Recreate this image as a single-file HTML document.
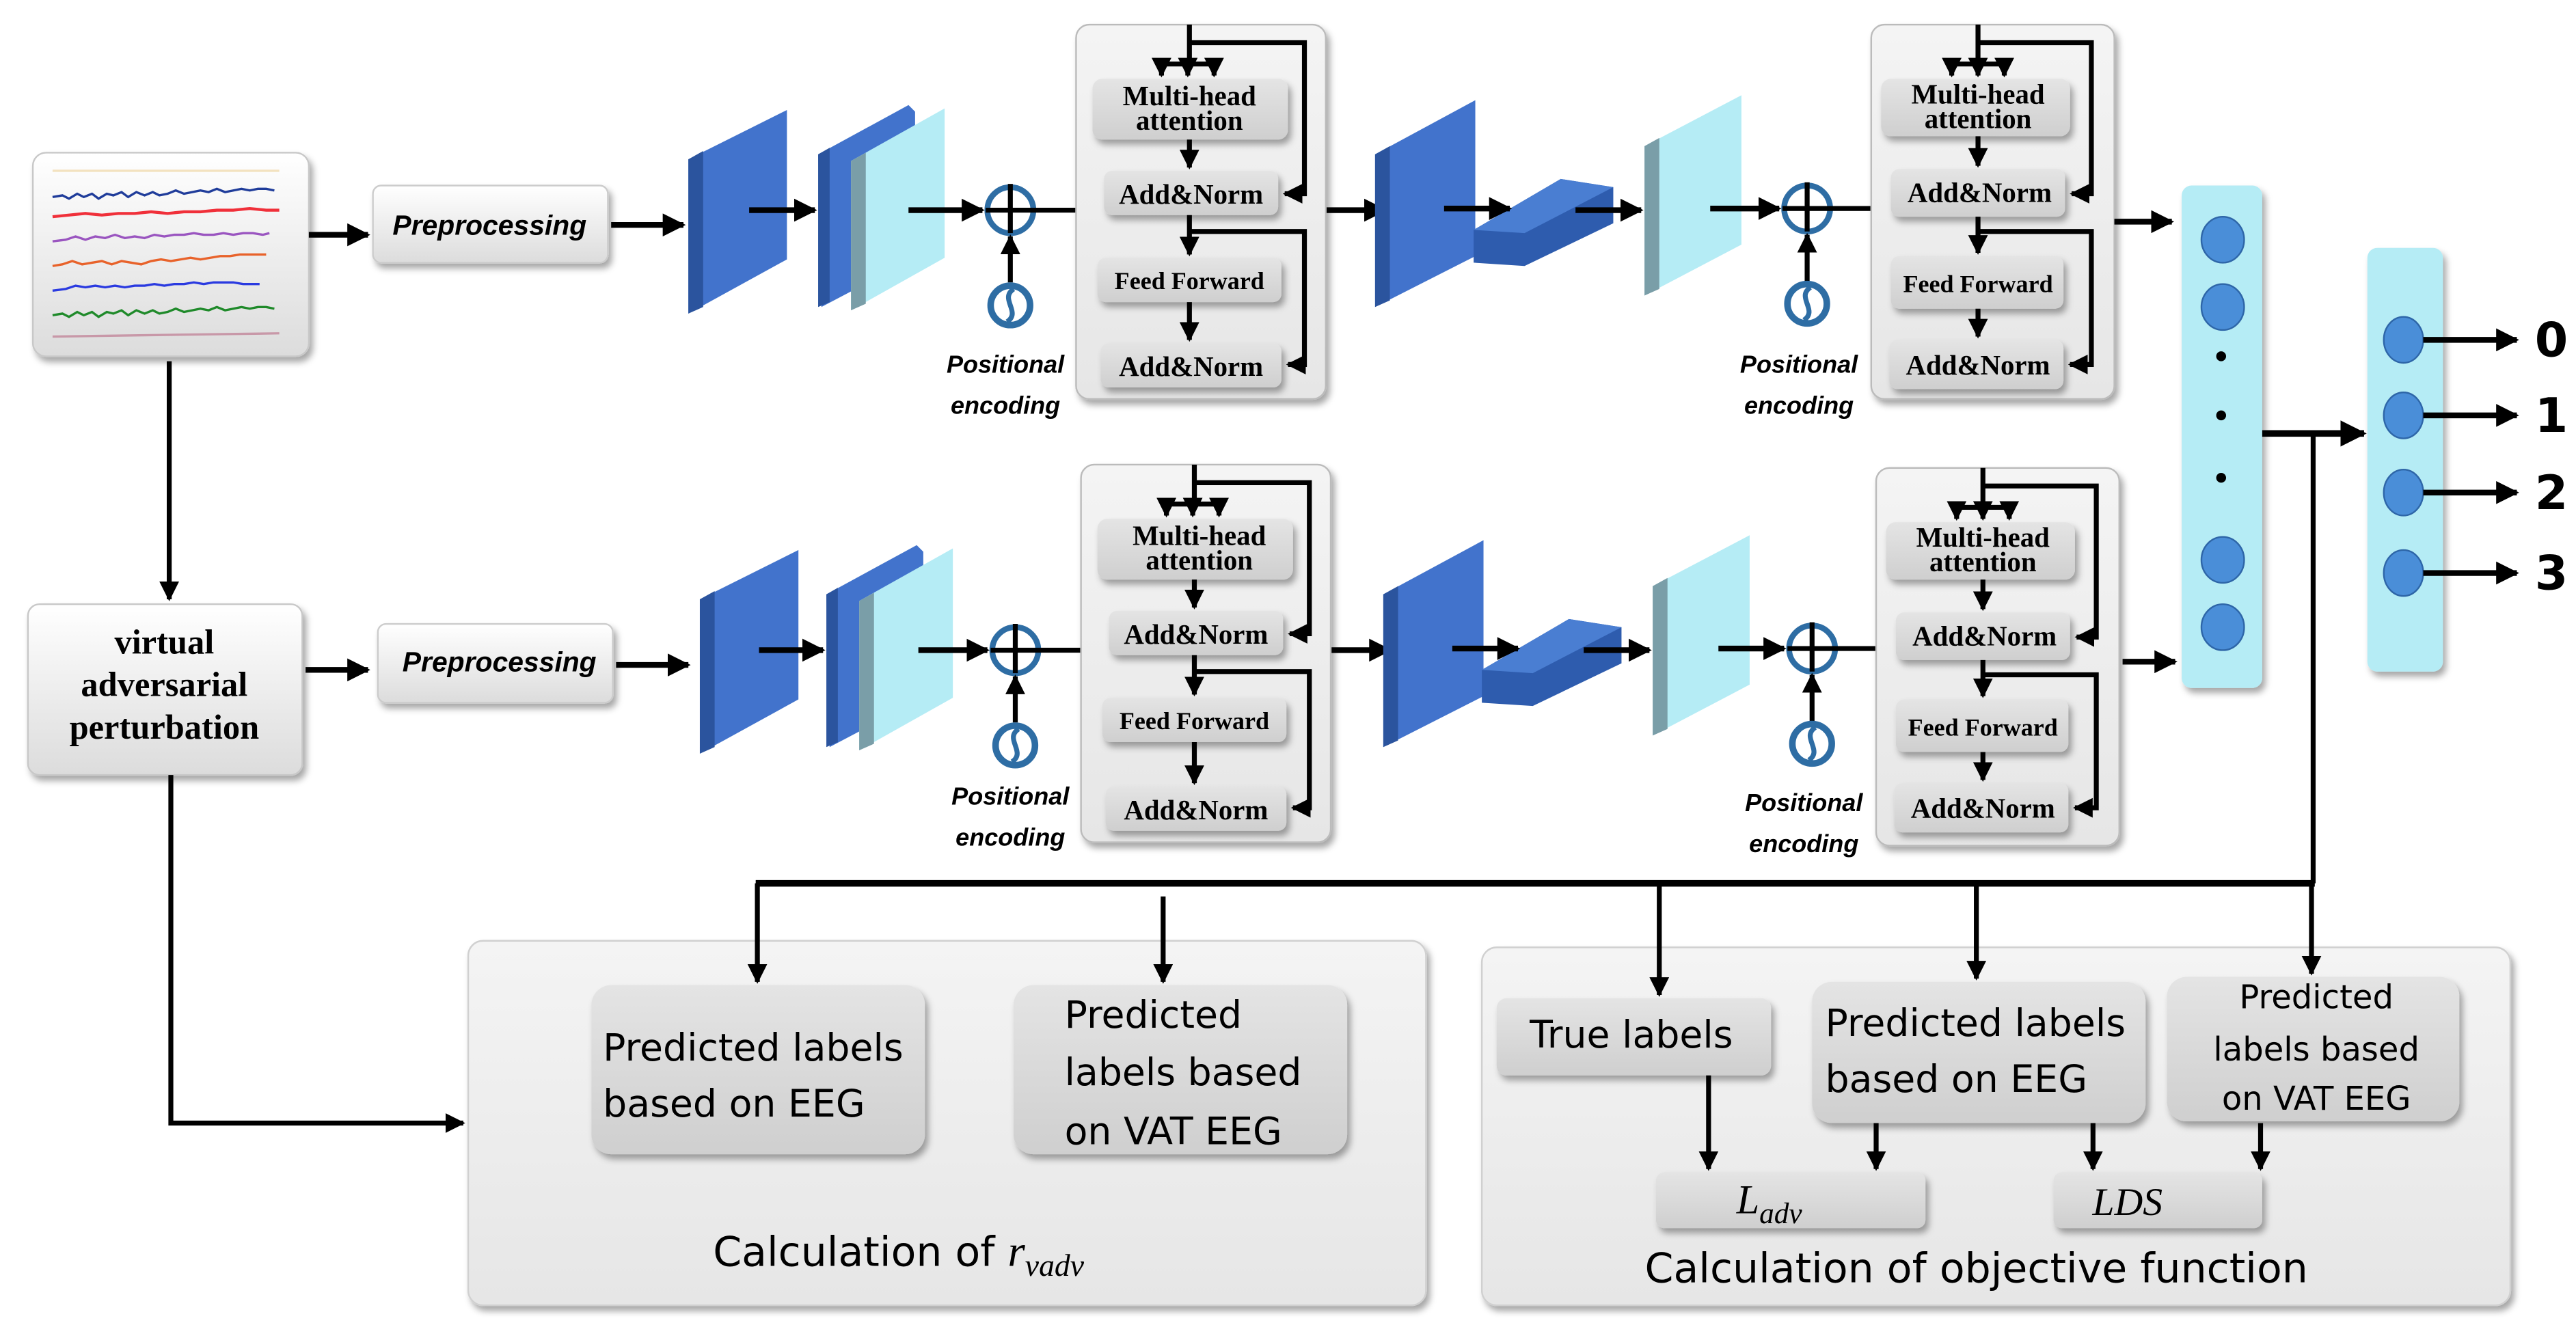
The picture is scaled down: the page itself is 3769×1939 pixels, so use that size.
<!DOCTYPE html>
<html><head><meta charset="utf-8"><style>
html,body{margin:0;padding:0;background:#fff;}
svg{display:block;}
.ser{font-family:"Liberation Serif",serif;font-weight:bold;}
.san{font-family:"DejaVu Sans","Liberation Sans",sans-serif;}
.it{font-family:"Liberation Sans",sans-serif;font-style:italic;font-weight:bold;}
</style></head><body>
<svg width="3769" height="1939" viewBox="0 0 1568 807" preserveAspectRatio="none" xmlns="http://www.w3.org/2000/svg">
<defs>
<marker id="a" markerWidth="4" markerHeight="4" refX="3.6" refY="2" orient="auto" markerUnits="strokeWidth"><path d="M0,0 L4,2 L0,4 z" fill="#000"/></marker>
<linearGradient id="g" x1="0" y1="0" x2="0" y2="1"><stop offset="0" stop-color="#ffffff"/><stop offset="1" stop-color="#dcdcdc"/></linearGradient>
<linearGradient id="g2" x1="0" y1="0" x2="0" y2="1"><stop offset="0" stop-color="#f4f4f4"/><stop offset="1" stop-color="#e6e6e6"/></linearGradient>
<linearGradient id="gi" x1="0" y1="0" x2="0" y2="1"><stop offset="0" stop-color="#e4e4e4"/><stop offset="1" stop-color="#cfcfcf"/></linearGradient>
<filter id="s" x="-10%" y="-10%" width="130%" height="140%"><feDropShadow dx="2" dy="3" stdDeviation="2" flood-color="#000" flood-opacity="0.35"/></filter>
</defs>
<g stroke-linecap="butt">
<rect x="20" y="93" width="168" height="124" rx="8" fill="url(#g)" stroke="#c8c8c8" filter="url(#s)"/>
<g fill="none" stroke-width="1.4">
<path d="M32,104 L170,104" stroke="#f3e2c0"/>
<path d="M32,120 l6,-1 4,2 5,-3 4,2 5,-2 4,3 5,-3 4,1 5,-2 4,3 5,-3 5,2 5,-2 4,2 5,-1 5,-2 5,2 5,-1 5,-1 5,1 5,-2 5,2 5,-1 5,-1 5,1 5,-1 5,0 5,1" stroke="#1f3c9a"/>
<path d="M32,132 l10,-1 10,-1 10,1 10,-1 10,0 10,-1 10,1 10,-1 10,0 10,-1 10,0 10,-1 10,1 8,0" stroke="#f0303a" stroke-width="1.8"/>
<path d="M32,147 l8,-1 6,-2 6,2 6,-2 6,1 6,-2 6,2 6,-1 6,1 6,-2 6,1 6,-1 6,0 6,-1 6,1 6,0 6,-1 6,1 6,-1 6,0 6,1 4,-1" stroke="#9a55c0"/>
<path d="M32,162 l6,-1 6,-2 6,2 6,-1 6,-1 6,2 6,-2 6,1 6,1 6,-2 6,-1 6,1 6,-1 6,-1 6,1 6,-1 6,-1 6,0 6,-1 6,0 6,0 4,0" stroke="#e8622a"/>
<path d="M32,177 l8,-1 6,-2 6,1 6,-1 6,1 6,-1 6,1 6,-1 6,0 6,-1 6,1 6,-1 6,0 6,-1 6,1 6,-1 6,0 6,0 6,1 6,0 4,0" stroke="#2a3ae0"/>
<path d="M32,192 l6,-1 4,2 5,-3 4,2 5,-2 4,3 5,-3 4,1 5,-2 4,3 5,-3 5,2 5,-2 4,2 5,-1 5,-2 5,2 5,-1 5,-1 5,1 5,-2 5,2 5,-1 5,-1 5,1 5,-1 5,0 5,1" stroke="#1f8a2a"/>
<path d="M32,205 L170,203" stroke="#c898a8"/>
</g>
<line x1="103" y1="220" x2="103" y2="365" stroke="#000" stroke-width="3" marker-end="url(#a)"/>
<rect x="17" y="368" width="167" height="104" rx="7" fill="url(#g)" stroke="#c8c8c8" filter="url(#s)"/>
<text class="ser" font-size="21" text-anchor="middle" x="100" y="398">virtual</text>
<text class="ser" font-size="21" text-anchor="middle" x="100" y="424">adversarial</text>
<text class="ser" font-size="21" text-anchor="middle" x="100" y="450">perturbation</text>
<polyline points="104,472 104,684 282,684" fill="none" stroke="#000" stroke-width="3" marker-end="url(#a)"/>
<line x1="188" y1="143" x2="224" y2="143" stroke="#000" stroke-width="3.5" marker-end="url(#a)"/>
<line x1="186" y1="408" x2="224" y2="408" stroke="#000" stroke-width="3.5" marker-end="url(#a)"/>

<g id="rowTop">
<rect x="227" y="113" width="143" height="47" rx="5" fill="url(#g)" stroke="#ccc" filter="url(#s)"/>
<text class="it" font-size="17" text-anchor="middle" x="298" y="143">Preprocessing</text>
<line x1="372" y1="137" x2="416" y2="137" stroke="#000" stroke-width="3.5" marker-end="url(#a)"/>
<polygon points="419,97 479,67 479,158 419,191" fill="#4273cc"/>
<polygon points="419,97 428,92 428,187 419,191" fill="#2b549e"/>
<line x1="456" y1="128" x2="496" y2="128" stroke="#000" stroke-width="3.5" marker-end="url(#a)"/>
<polygon points="498,94 553,64 557,68 557,157 500,187" fill="#4273cc"/>
<polygon points="498,94 505,90 505,184 498,187" fill="#2b549e"/>
<polygon points="518,98 575,66 575,157 518,189" fill="#b5ecf5"/>
<polygon points="518,98 527,93 527,185 518,189" fill="#7a9ea8"/>
<line x1="553" y1="128" x2="598" y2="128" stroke="#000" stroke-width="3.5" marker-end="url(#a)"/>
<circle cx="615" cy="128" r="14" fill="none" stroke="#2e6da4" stroke-width="3.5"/>
<line x1="600" y1="128" x2="655" y2="128" stroke="#000" stroke-width="3"/>
<line x1="615" y1="112" x2="615" y2="142" stroke="#000" stroke-width="3"/>
<line x1="615" y1="172" x2="615" y2="144" stroke="#000" stroke-width="3" marker-end="url(#a)"/>
<circle cx="615" cy="186" r="12" fill="none" stroke="#2e6da4" stroke-width="4"/>
<path d="M617,176 C608,182 622,190 613,196" fill="none" stroke="#2e6da4" stroke-width="3"/>
<text class="it" font-size="15" text-anchor="middle" x="612" y="227">Positional</text>
<text class="it" font-size="15" text-anchor="middle" x="612" y="252">encoding</text>
<line x1="807" y1="128" x2="843" y2="128" stroke="#000" stroke-width="3.5" marker-end="url(#a)"/>
<polygon points="837,94 898,61 898,156 837,187" fill="#4273cc"/>
<polygon points="837,94 846,89 846,183 837,187" fill="#2b549e"/>
<polygon points="897,140 950,109 982,114 982,136 928,162 897,160" fill="#2e5cae"/>
<polygon points="897,140 950,109 982,114 928,142" fill="#4a7ed2"/>
<line x1="879" y1="127" x2="919" y2="127" stroke="#000" stroke-width="3.5" marker-end="url(#a)"/>
<line x1="959" y1="128" x2="999" y2="128" stroke="#000" stroke-width="3.5" marker-end="url(#a)"/>
<polygon points="1001,89 1060,58 1060,149 1001,180" fill="#b5ecf5"/>
<polygon points="1001,89 1010,84 1010,176 1001,180" fill="#7a9ea8"/>
<line x1="1041" y1="127" x2="1083" y2="127" stroke="#000" stroke-width="3.5" marker-end="url(#a)"/>
<circle cx="1100" cy="127" r="14" fill="none" stroke="#2e6da4" stroke-width="3.5"/>
<line x1="1085" y1="127" x2="1139" y2="127" stroke="#000" stroke-width="3"/>
<line x1="1100" y1="111" x2="1100" y2="141" stroke="#000" stroke-width="3"/>
<line x1="1100" y1="172" x2="1100" y2="143" stroke="#000" stroke-width="3" marker-end="url(#a)"/>
<circle cx="1100" cy="185" r="12" fill="none" stroke="#2e6da4" stroke-width="4"/>
<path d="M1102,175 C1093,181 1107,189 1098,195" fill="none" stroke="#2e6da4" stroke-width="3"/>
<text class="it" font-size="15" text-anchor="middle" x="1095" y="227">Positional</text>
<text class="it" font-size="15" text-anchor="middle" x="1095" y="252">encoding</text>

<g transform="translate(655,15)">
<rect x="0" y="0" width="152" height="228" rx="8" fill="url(#g2)" stroke="#bbb" filter="url(#s)"/>
<rect x="10" y="33" width="119" height="37" rx="6" fill="url(#gi)" filter="url(#s)"/>
<text class="ser" font-size="17" text-anchor="middle" x="69" y="49">Multi-head</text>
<text class="ser" font-size="17" text-anchor="middle" x="69" y="64">attention</text>
<rect x="17" y="89" width="106" height="27" rx="5" fill="url(#gi)" filter="url(#s)"/>
<text class="ser" font-size="17" text-anchor="middle" x="70" y="109">Add&amp;Norm</text>
<rect x="13" y="142" width="112" height="27" rx="5" fill="url(#gi)" filter="url(#s)"/>
<text class="ser" font-size="15" text-anchor="middle" x="69" y="161">Feed Forward</text>
<rect x="15" y="194" width="110" height="27" rx="5" fill="url(#gi)" filter="url(#s)"/>
<text class="ser" font-size="17" text-anchor="middle" x="70" y="214">Add&amp;Norm</text>
<g stroke="#000" stroke-width="3" fill="none">
<line x1="69" y1="0" x2="69" y2="26"/>
<line x1="52" y1="24" x2="84" y2="24"/>
<line x1="52" y1="24" x2="52" y2="31" marker-end="url(#a)"/>
<line x1="68" y1="24" x2="68" y2="31" marker-end="url(#a)"/>
<line x1="84" y1="24" x2="84" y2="31" marker-end="url(#a)"/>
<polyline points="69,11 139,11 139,103 127,103" marker-end="url(#a)"/>
<line x1="69" y1="70" x2="69" y2="87" marker-end="url(#a)"/>
<line x1="69" y1="116" x2="69" y2="140" marker-end="url(#a)"/>
<polyline points="69,126 139,126 139,207 129,207" marker-end="url(#a)"/>
<line x1="69" y1="169" x2="69" y2="192" marker-end="url(#a)"/>
</g>
</g>
<g transform="translate(1139,15)">
<rect x="0" y="0" width="148" height="228" rx="8" fill="url(#g2)" stroke="#bbb" filter="url(#s)"/>
<rect x="6" y="33" width="115" height="35" rx="6" fill="url(#gi)" filter="url(#s)"/>
<text class="ser" font-size="17" text-anchor="middle" x="65" y="48">Multi-head</text>
<text class="ser" font-size="17" text-anchor="middle" x="65" y="63">attention</text>
<rect x="12" y="88" width="106" height="29" rx="5" fill="url(#gi)" filter="url(#s)"/>
<text class="ser" font-size="17" text-anchor="middle" x="66" y="108">Add&amp;Norm</text>
<rect x="12" y="141" width="105" height="32" rx="5" fill="url(#gi)" filter="url(#s)"/>
<text class="ser" font-size="15" text-anchor="middle" x="65" y="163">Feed Forward</text>
<rect x="11" y="192" width="106" height="30" rx="5" fill="url(#gi)" filter="url(#s)"/>
<text class="ser" font-size="17" text-anchor="middle" x="65" y="213">Add&amp;Norm</text>
<g stroke="#000" stroke-width="3" fill="none">
<line x1="65" y1="0" x2="65" y2="26"/>
<line x1="49" y1="24" x2="81" y2="24"/>
<line x1="49" y1="24" x2="49" y2="31" marker-end="url(#a)"/>
<line x1="65" y1="24" x2="65" y2="31" marker-end="url(#a)"/>
<line x1="81" y1="24" x2="81" y2="31" marker-end="url(#a)"/>
<polyline points="65,11 134,11 134,103 122,103" marker-end="url(#a)"/>
<line x1="65" y1="68" x2="65" y2="86" marker-end="url(#a)"/>
<line x1="65" y1="117" x2="65" y2="139" marker-end="url(#a)"/>
<polyline points="65,126 134,126 134,207 121,207" marker-end="url(#a)"/>
<line x1="65" y1="173" x2="65" y2="190" marker-end="url(#a)"/>
</g>
</g>
</g>
<g transform="translate(3,268)">
<rect x="227" y="112" width="143" height="48" rx="5" fill="url(#g)" stroke="#ccc" filter="url(#s)"/>
<text class="it" font-size="17" text-anchor="middle" x="301" y="141">Preprocessing</text>
<line x1="372" y1="137" x2="416" y2="137" stroke="#000" stroke-width="3.5" marker-end="url(#a)"/>
<polygon points="423,97 483,67 483,158 423,191" fill="#4273cc"/>
<polygon points="423,97 432,92 432,187 423,191" fill="#2b549e"/>
<line x1="459" y1="128" x2="498" y2="128" stroke="#000" stroke-width="3.5" marker-end="url(#a)"/>
<polygon points="500,94 555,64 559,68 559,157 502,187" fill="#4273cc"/>
<polygon points="500,94 507,90 507,184 500,187" fill="#2b549e"/>
<polygon points="520,98 577,66 577,157 520,189" fill="#b5ecf5"/>
<polygon points="520,98 529,93 529,185 520,189" fill="#7a9ea8"/>
<line x1="556" y1="128" x2="598" y2="128" stroke="#000" stroke-width="3.5" marker-end="url(#a)"/>
<circle cx="615" cy="128" r="14" fill="none" stroke="#2e6da4" stroke-width="3.5"/>
<line x1="600" y1="128" x2="655" y2="128" stroke="#000" stroke-width="3"/>
<line x1="615" y1="112" x2="615" y2="142" stroke="#000" stroke-width="3"/>
<line x1="615" y1="172" x2="615" y2="144" stroke="#000" stroke-width="3" marker-end="url(#a)"/>
<circle cx="615" cy="186" r="12" fill="none" stroke="#2e6da4" stroke-width="4"/>
<path d="M617,176 C608,182 622,190 613,196" fill="none" stroke="#2e6da4" stroke-width="3"/>
<text class="it" font-size="15" text-anchor="middle" x="612" y="222">Positional</text>
<text class="it" font-size="15" text-anchor="middle" x="612" y="247">encoding</text>
<line x1="807" y1="128" x2="843" y2="128" stroke="#000" stroke-width="3.5" marker-end="url(#a)"/>
<polygon points="839,94 900,61 900,156 839,187" fill="#4273cc"/>
<polygon points="839,94 848,89 848,183 839,187" fill="#2b549e"/>
<polygon points="899,140 952,109 984,114 984,136 930,162 899,160" fill="#2e5cae"/>
<polygon points="899,140 952,109 984,114 930,142" fill="#4a7ed2"/>
<line x1="881" y1="127" x2="921" y2="127" stroke="#000" stroke-width="3.5" marker-end="url(#a)"/>
<line x1="961" y1="128" x2="1001" y2="128" stroke="#000" stroke-width="3.5" marker-end="url(#a)"/>
<polygon points="1003,89 1062,58 1062,149 1003,180" fill="#b5ecf5"/>
<polygon points="1003,89 1012,84 1012,176 1003,180" fill="#7a9ea8"/>
<line x1="1043" y1="127" x2="1083" y2="127" stroke="#000" stroke-width="3.5" marker-end="url(#a)"/>
<circle cx="1100" cy="127" r="14" fill="none" stroke="#2e6da4" stroke-width="3.5"/>
<line x1="1085" y1="127" x2="1139" y2="127" stroke="#000" stroke-width="3"/>
<line x1="1100" y1="111" x2="1100" y2="141" stroke="#000" stroke-width="3"/>
<line x1="1100" y1="172" x2="1100" y2="143" stroke="#000" stroke-width="3" marker-end="url(#a)"/>
<circle cx="1100" cy="185" r="12" fill="none" stroke="#2e6da4" stroke-width="4"/>
<path d="M1102,175 C1093,181 1107,189 1098,195" fill="none" stroke="#2e6da4" stroke-width="3"/>
<text class="it" font-size="15" text-anchor="middle" x="1095" y="226">Positional</text>
<text class="it" font-size="15" text-anchor="middle" x="1095" y="251">encoding</text>
<g transform="translate(655,15)">
<rect x="0" y="0" width="152" height="230" rx="8" fill="url(#g2)" stroke="#bbb" filter="url(#s)"/>
<rect x="10" y="33" width="119" height="37" rx="6" fill="url(#gi)" filter="url(#s)"/>
<text class="ser" font-size="17" text-anchor="middle" x="72" y="49">Multi-head</text>
<text class="ser" font-size="17" text-anchor="middle" x="72" y="64">attention</text>
<rect x="17" y="89" width="106" height="27" rx="5" fill="url(#gi)" filter="url(#s)"/>
<text class="ser" font-size="17" text-anchor="middle" x="70" y="109">Add&amp;Norm</text>
<rect x="13" y="142" width="112" height="27" rx="5" fill="url(#gi)" filter="url(#s)"/>
<text class="ser" font-size="15" text-anchor="middle" x="69" y="161">Feed Forward</text>
<rect x="15" y="196" width="110" height="27" rx="5" fill="url(#gi)" filter="url(#s)"/>
<text class="ser" font-size="17" text-anchor="middle" x="70" y="216">Add&amp;Norm</text>
<g stroke="#000" stroke-width="3" fill="none">
<line x1="69" y1="0" x2="69" y2="26"/>
<line x1="52" y1="24" x2="84" y2="24"/>
<line x1="52" y1="24" x2="52" y2="31" marker-end="url(#a)"/>
<line x1="68" y1="24" x2="68" y2="31" marker-end="url(#a)"/>
<line x1="84" y1="24" x2="84" y2="31" marker-end="url(#a)"/>
<polyline points="69,11 139,11 139,103 127,103" marker-end="url(#a)"/>
<line x1="69" y1="70" x2="69" y2="87" marker-end="url(#a)"/>
<line x1="69" y1="116" x2="69" y2="140" marker-end="url(#a)"/>
<polyline points="69,126 139,126 139,209 129,209" marker-end="url(#a)"/>
<line x1="69" y1="169" x2="69" y2="194" marker-end="url(#a)"/>
</g>
</g>
<g transform="translate(1139,17)">
<rect x="0" y="0" width="148" height="230" rx="8" fill="url(#g2)" stroke="#bbb" filter="url(#s)"/>
<rect x="6" y="33" width="115" height="35" rx="6" fill="url(#gi)" filter="url(#s)"/>
<text class="ser" font-size="17" text-anchor="middle" x="65" y="48">Multi-head</text>
<text class="ser" font-size="17" text-anchor="middle" x="65" y="63">attention</text>
<rect x="12" y="88" width="106" height="29" rx="5" fill="url(#gi)" filter="url(#s)"/>
<text class="ser" font-size="17" text-anchor="middle" x="66" y="108">Add&amp;Norm</text>
<rect x="12" y="141" width="105" height="32" rx="5" fill="url(#gi)" filter="url(#s)"/>
<text class="ser" font-size="15" text-anchor="middle" x="65" y="163">Feed Forward</text>
<rect x="11" y="192" width="106" height="30" rx="5" fill="url(#gi)" filter="url(#s)"/>
<text class="ser" font-size="17" text-anchor="middle" x="65" y="213">Add&amp;Norm</text>
<g stroke="#000" stroke-width="3" fill="none">
<line x1="65" y1="0" x2="65" y2="26"/>
<line x1="49" y1="24" x2="81" y2="24"/>
<line x1="49" y1="24" x2="49" y2="31" marker-end="url(#a)"/>
<line x1="65" y1="24" x2="65" y2="31" marker-end="url(#a)"/>
<line x1="81" y1="24" x2="81" y2="31" marker-end="url(#a)"/>
<polyline points="65,11 134,11 134,103 122,103" marker-end="url(#a)"/>
<line x1="65" y1="68" x2="65" y2="86" marker-end="url(#a)"/>
<line x1="65" y1="117" x2="65" y2="139" marker-end="url(#a)"/>
<polyline points="65,126 134,126 134,207 121,207" marker-end="url(#a)"/>
<line x1="65" y1="173" x2="65" y2="190" marker-end="url(#a)"/>
</g>
</g>
</g>

<line x1="1287" y1="135" x2="1322" y2="135" stroke="#000" stroke-width="3.5" marker-end="url(#a)"/>
<line x1="1292" y1="403" x2="1324" y2="403" stroke="#000" stroke-width="3.5" marker-end="url(#a)"/>
<rect x="1328" y="113" width="49" height="306" rx="6" fill="#b5ecf5" filter="url(#s)"/>
<g fill="#4a8ed8" stroke="#2e66a8" stroke-width="1">
<ellipse cx="1353" cy="146" rx="13" ry="14"/><ellipse cx="1353" cy="187" rx="13" ry="14"/>
<ellipse cx="1353" cy="341" rx="13" ry="14"/><ellipse cx="1353" cy="382" rx="13" ry="14"/>
</g>
<circle cx="1352" cy="217" r="3" fill="#000"/><circle cx="1352" cy="253" r="3" fill="#000"/><circle cx="1352" cy="291" r="3" fill="#000"/>
<line x1="1377" y1="264" x2="1439" y2="264" stroke="#000" stroke-width="4" marker-end="url(#a)"/>
<rect x="1441" y="151" width="46" height="258" rx="6" fill="#b5ecf5" filter="url(#s)"/>
<g fill="#4a8ed8" stroke="#2e66a8" stroke-width="1">
<ellipse cx="1463" cy="207" rx="12" ry="14"/><ellipse cx="1463" cy="253" rx="12" ry="14"/>
<ellipse cx="1463" cy="300" rx="12" ry="14"/><ellipse cx="1463" cy="349" rx="12" ry="14"/>
</g>
<g stroke="#000" stroke-width="3.5">
<line x1="1475" y1="207" x2="1532" y2="207" marker-end="url(#a)"/>
<line x1="1475" y1="253" x2="1532" y2="253" marker-end="url(#a)"/>
<line x1="1475" y1="300" x2="1532" y2="300" marker-end="url(#a)"/>
<line x1="1475" y1="349" x2="1532" y2="349" marker-end="url(#a)"/>
</g>
<g font-family="'DejaVu Sans','Liberation Sans',sans-serif" font-weight="bold" font-size="29" text-anchor="middle">
<text x="1553" y="217">0</text><text x="1553" y="263">1</text><text x="1553" y="310">2</text><text x="1553" y="359">3</text>
</g>

<line x1="1408" y1="264" x2="1408" y2="538" stroke="#000" stroke-width="3"/>
<line x1="460" y1="538" x2="1409" y2="538" stroke="#000" stroke-width="4"/>

<rect x="285" y="573" width="583" height="222" rx="9" fill="url(#g2)" stroke="#d0d0d0" filter="url(#s)"/>
<rect x="360" y="600" width="203" height="103" rx="12" fill="url(#gi)" filter="url(#s)"/>
<text class="san" font-size="23" x="367" y="646">Predicted labels</text>
<text class="san" font-size="23" x="367" y="680">based on EEG</text>
<rect x="617" y="600" width="203" height="103" rx="12" fill="url(#gi)" filter="url(#s)"/>
<text class="san" font-size="23" x="648" y="626">Predicted</text>
<text class="san" font-size="23" x="648" y="661">labels based</text>
<text class="san" font-size="23" x="648" y="697">on VAT EEG</text>
<text class="san" font-size="25" x="434" y="771">Calculation of <tspan font-family="'Liberation Serif',serif" font-style="italic" font-size="27">r</tspan><tspan font-family="'Liberation Serif',serif" font-style="italic" font-size="19" dy="6">vadv</tspan></text>

<rect x="902" y="577" width="626" height="218" rx="9" fill="url(#g2)" stroke="#d0d0d0" filter="url(#s)"/>
<rect x="911" y="608" width="167" height="47" rx="6" fill="url(#gi)" filter="url(#s)"/>
<text class="san" font-size="23" text-anchor="middle" x="993" y="638">True labels</text>
<rect x="1103" y="598" width="203" height="86" rx="12" fill="url(#gi)" filter="url(#s)"/>
<text class="san" font-size="23" x="1111" y="631">Predicted labels</text>
<text class="san" font-size="23" x="1111" y="665">based on EEG</text>
<rect x="1319" y="595" width="178" height="88" rx="12" fill="url(#gi)" filter="url(#s)"/>
<text class="san" font-size="20" text-anchor="middle" x="1410" y="614">Predicted</text>
<text class="san" font-size="20" text-anchor="middle" x="1410" y="646">labels based</text>
<text class="san" font-size="20" text-anchor="middle" x="1410" y="676">on VAT EEG</text>
<rect x="1008" y="714" width="164" height="34" rx="5" fill="url(#gi)" filter="url(#s)"/>
<text font-family="'Liberation Serif',serif" font-style="italic" font-size="25" x="1057" y="739">L<tspan font-size="18" dy="6">adv</tspan></text>
<rect x="1250" y="714" width="127" height="34" rx="5" fill="url(#gi)" filter="url(#s)"/>
<text font-family="'Liberation Serif',serif" font-style="italic" font-size="24" text-anchor="middle" x="1295" y="740">LDS</text>
<g stroke="#000" stroke-width="3">
<line x1="1040" y1="655" x2="1040" y2="712" marker-end="url(#a)"/>
<line x1="1142" y1="684" x2="1142" y2="712" marker-end="url(#a)"/>
<line x1="1274" y1="684" x2="1274" y2="712" marker-end="url(#a)"/>
<line x1="1376" y1="684" x2="1376" y2="712" marker-end="url(#a)"/>
</g>
<text class="san" font-size="25" text-anchor="middle" x="1203" y="781">Calculation of objective function</text>

<g stroke="#000" stroke-width="3">
<line x1="461" y1="538" x2="461" y2="598" marker-end="url(#a)"/>
<line x1="708" y1="546" x2="708" y2="598" marker-end="url(#a)"/>
<line x1="1010" y1="538" x2="1010" y2="606" marker-end="url(#a)"/>
<line x1="1203" y1="538" x2="1203" y2="596" marker-end="url(#a)"/>
<line x1="1407" y1="538" x2="1407" y2="593" marker-end="url(#a)"/>
</g>
</g>
</svg>
</body></html>
